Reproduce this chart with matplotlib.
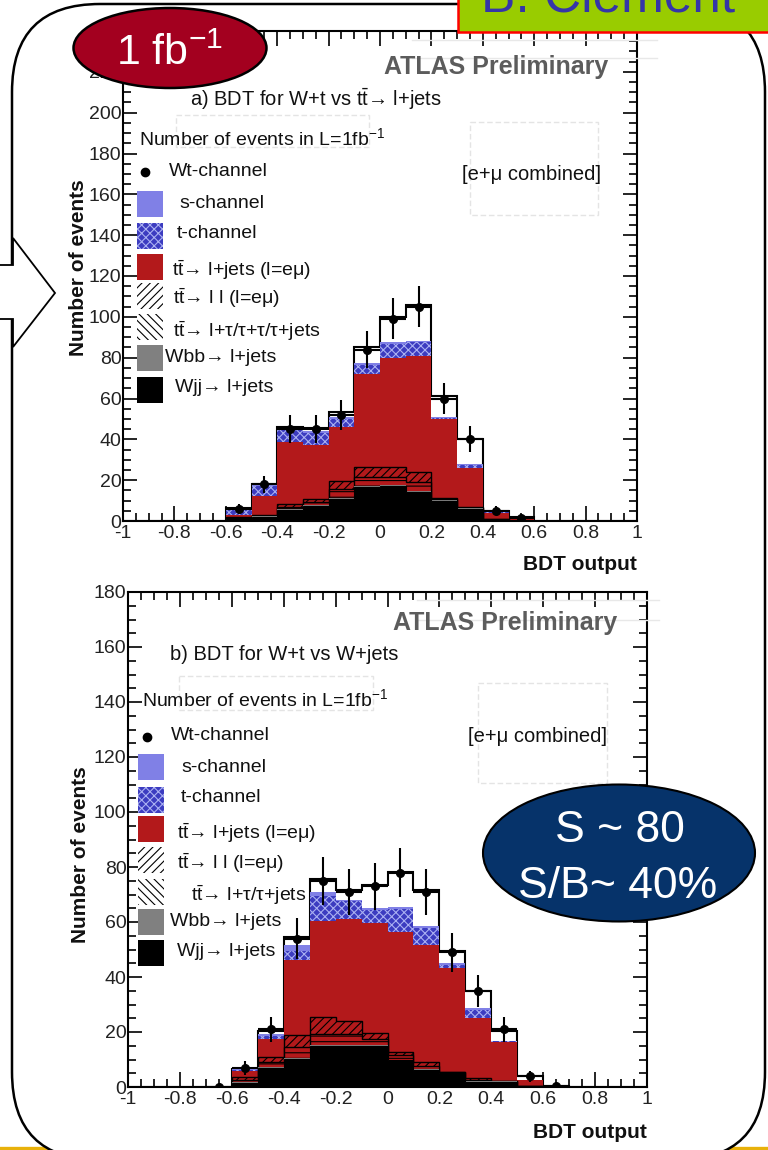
import numpy as np
import matplotlib
matplotlib.use('Agg')
import matplotlib.pyplot as plt
import matplotlib.transforms as mtransforms
from matplotlib.patches import Rectangle, Ellipse, Polygon, FancyBboxPatch
from matplotlib.lines import Line2D
from matplotlib.ticker import FixedLocator, MultipleLocator, FormatStrFormatter

plt.rcParams['font.family'] = ['Liberation Sans', 'DejaVu Sans']
plt.rcParams['mathtext.fontset'] = 'custom'
plt.rcParams['mathtext.rm'] = 'Liberation Sans'
plt.rcParams['mathtext.it'] = 'Liberation Sans:italic'
plt.rcParams['mathtext.bf'] = 'Liberation Sans:bold'
plt.rcParams['hatch.linewidth'] = 0.8

# ---------------- data ----------------
bin_edges = np.round(np.linspace(-1.0, 1.0, 21), 2)
x_ticks = [-1, -0.8, -0.6, -0.4, -0.2, 0, 0.2, 0.4, 0.6, 0.8, 1]

# panel a) BDT for W+t vs ttbar -> l+jets  (20 bins, -1 .. 1)
wjj_a   = [0, 0, 0, 0, 1.0, 2.0, 5.5, 7.5, 11.0, 16.5, 17.0, 14.0, 10.0, 6.0, 0.5, 0.1, 0, 0, 0, 0]
wbb_a   = [0, 0, 0, 0, 0.2, 0.3, 0.3, 0.4, 0.5, 0.5, 0.5, 0.5, 0.3, 0.2, 0.1, 0.0, 0, 0, 0, 0]
ltau_a  = [0, 0, 0, 0, 0.4, 0.3, 1.2, 1.6, 4.0, 4.5, 4.0, 4.5, 0.5, 0.3, 0.2, 0.0, 0, 0, 0, 0]
ll_a    = [0, 0, 0, 0, 0.4, 0.4, 1.4, 1.3, 3.9, 4.9, 4.9, 5.0, 0.7, 0.2, 0.2, 0.0, 0, 0, 0, 0]
ljets_a = [0, 0, 0, 0, 1.0, 9.1, 30.3, 26.3, 26.7, 45.8, 53.4, 56.6, 38.7, 19.3, 2.9, 0.7, 0, 0, 0, 0]
tch_a   = [0, 0, 0, 0, 2.5, 4.9, 5.8, 6.2, 3.9, 4.3, 6.7, 6.9, 0.4, 1.5, 0.4, 0.2, 0, 0, 0, 0]
sch_a   = [0, 0, 0, 0, 0.5, 0.8, 0.8, 0.9, 1.0, 1.0, 1.0, 0.5, 0.2, 0.3, 0.1, 0.1, 0, 0, 0, 0]
wt_a    = [0, 0, 0, 0, 0.2, 0.4, 0.7, 1.3, 2.5, 7.5, 12.3, 17.7, 10.2, 12.6, 0.4, 0.7, 0, 0, 0, 0]
data_x_a = [-0.55, -0.45, -0.35, -0.25, -0.15, -0.05, 0.05, 0.15, 0.25, 0.35, 0.45, 0.55]
data_a   = [6, 18, 45, 45, 52, 84, 99, 105, 60, 40, 5, 1.5]
err_a    = [2.5, 4.2, 6.7, 6.7, 7.2, 9.2, 10.0, 10.2, 7.7, 6.3, 2.2, 1.2]

# panel b) BDT for W+t vs W+jets
wjj_b   = [0, 0, 0, 0, 1.5, 7.0, 10.2, 14.9, 14.9, 14.9, 9.8, 6.2, 5.1, 2.0, 2.0, 0.3, 0.0, 0, 0, 0]
wbb_b   = [0, 0, 0, 0, 0.2, 0.3, 0.4, 0.4, 0.3, 0.3, 0.2, 0.2, 0.1, 0.1, 0.1, 0.0, 0.0, 0, 0, 0]
ltau_b  = [0, 0, 0, 0, 0.9, 1.7, 4.1, 4.0, 4.1, 2.3, 1.5, 1.4, 0.1, 0.5, 0.1, 0.0, 0.0, 0, 0, 0]
ll_b    = [0, 0, 0, 0, 1.0, 1.9, 4.3, 6.1, 4.7, 2.3, 1.3, 1.4, 0.1, 0.6, 0.1, 0.0, 0.0, 0, 0, 0]
ljets_b = [0, 0, 0, 0, 2.2, 6.5, 27.2, 35.1, 37.0, 39.8, 43.7, 42.4, 37.9, 21.8, 14.2, 2.2, 0.1, 0, 0, 0]
tch_b   = [0, 0, 0, 0, 0.4, 1.1, 3.4, 9.0, 6.5, 4.7, 8.3, 6.2, 1.1, 3.0, 0.2, 0.1, 0.0, 0, 0, 0]
sch_b   = [0, 0, 0, 0, 0.2, 0.8, 2.0, 1.5, 0.5, 0.7, 0.7, 0.7, 0.6, 0.7, 0.1, 0.1, 0.0, 0, 0, 0]
wt_b    = [0, 0, 0, 0, 0.3, 1.2, 2.9, 4.6, 3.6, 8.5, 12.8, 13.1, 4.5, 6.3, 3.7, 1.3, 0.4, 0, 0, 0]
data_x_b = [-0.65, -0.55, -0.45, -0.35, -0.25, -0.15, -0.05, 0.05, 0.15, 0.25, 0.35, 0.45, 0.55, 0.65]
data_b   = [0, 7, 21, 54, 75, 71, 73, 78, 71, 49, 35, 21, 4, 0.5]
err_b    = [0, 2.6, 4.6, 7.3, 8.7, 8.4, 8.5, 8.8, 8.4, 7.0, 5.9, 4.6, 2.0, 0.7]

# ---------------- styles ----------------
RED = '#b3191b'
SCH = '#8080e6'
TCH = '#3c3cc0'
TCH_H = '#aab0f2'
styles = [
    dict(facecolor='black', edgecolor='black', lw=0.8),                     # Wjj
    dict(facecolor='#808080', edgecolor='#808080', lw=0),                   # Wbb
    dict(facecolor=RED, edgecolor='black', hatch='---', lw=1.0),            # tt -> l+tau
    dict(facecolor=RED, edgecolor='black', hatch='////', lw=1.0),           # tt -> ll
    dict(facecolor=RED, edgecolor=RED, lw=0),                               # tt -> l+jets
    dict(facecolor=TCH, edgecolor=TCH_H, hatch='xxxx', lw=0),               # t-channel
    dict(facecolor=SCH, edgecolor=SCH, lw=0),                               # s-channel
    dict(facecolor='white', edgecolor='black', lw=1.5),                     # Wt
]

W, H = 768, 1150
fig = plt.figure(figsize=(W / 100, H / 100), dpi=100)
PX = mtransforms.Affine2D().scale(1.0 / W, -1.0 / H).translate(0, 1) + fig.transFigure


def ax_rect(x0, y_top, x1, y_bot):
    return [x0 / W, 1 - y_bot / H, (x1 - x0) / W, (y_bot - y_top) / H]


def draw_panel(ax, comps, dx, dy, de, ymax):
    cum = np.cumsum(np.array(comps, dtype=float), axis=0)
    for i in reversed(range(len(comps))):
        ax.stairs(cum[i], bin_edges, fill=True, baseline=0, zorder=2, **styles[i])
    ax.errorbar(dx, dy, yerr=de, xerr=0.05, fmt='o', color='black', ms=5.5,
                elinewidth=1.5, capsize=0, zorder=5)
    ax.set_xlim(-1, 1)
    ax.set_ylim(0, ymax)
    ax.xaxis.set_major_locator(FixedLocator(x_ticks))
    ax.xaxis.set_major_formatter(FormatStrFormatter('%g'))
    ax.xaxis.set_minor_locator(MultipleLocator(0.05))
    ax.yaxis.set_major_locator(MultipleLocator(20))
    ax.yaxis.set_minor_locator(MultipleLocator(5))
    ax.yaxis.set_major_formatter(FormatStrFormatter('%d'))
    ax.tick_params(which='both', direction='in', top=True, right=True, width=1.2,
                   labelsize=14, labelcolor='#222222')
    ax.tick_params(axis='x', which='major', length=11, pad=3)
    ax.tick_params(axis='x', which='minor', length=6)
    ax.tick_params(axis='y', which='major', length=10, pad=1)
    ax.tick_params(axis='y', which='minor', length=5.5)
    for s in ax.spines.values():
        s.set_linewidth(1.5)


# ---------------- slide background ----------------
fig.add_artist(Line2D([0, W], [1148, 1148], transform=PX, color='#e8b10a', lw=2.4, zorder=-3))
fig.add_artist(FancyBboxPatch((12, 4), 753, 1156, boxstyle='round,pad=0,rounding_size=88',
                              transform=PX, facecolor='white', edgecolor='black', lw=1.8, zorder=-2))

ax1 = fig.add_axes(ax_rect(123, 31, 637, 521))
ax2 = fig.add_axes(ax_rect(128, 592, 647, 1087))
draw_panel(ax1, [wjj_a, wbb_a, ltau_a, ll_a, ljets_a, tch_a, sch_a, wt_a], data_x_a, data_a, err_a, 240)
draw_panel(ax2, [wjj_b, wbb_b, ltau_b, ll_b, ljets_b, tch_b, sch_b, wt_b], data_x_b, data_b, err_b, 180)


def T(x, y, s, **kw):
    kw.setdefault('fontsize', 14)
    kw.setdefault('va', 'center')
    kw.setdefault('ha', 'left')
    kw.setdefault('zorder', 3)
    kw.setdefault('color', '#111111')
    return fig.text(x, y, s, transform=PX, **kw)


def faint_box(x0, y0, x1, y1):
    fig.add_artist(Rectangle((x0, y0), x1 - x0, y1 - y0, transform=PX, fill=False,
                             edgecolor='#e4e4e4', lw=1.0, ls=(0, (4, 2)), zorder=2.5))


def faint_line(x0, x1, y):
    fig.add_artist(Line2D([x0, x1], [y, y], transform=PX, color='#e8e8e8', lw=1.0, zorder=2.5))


TT = r'$\mathrm{t\bar{t}}$'
legend_styles = {
    'sch': dict(facecolor=SCH, edgecolor=SCH, lw=0),
    'tch': dict(facecolor=TCH, edgecolor=TCH_H, hatch='xxxx', lw=0),
    'ljets': dict(facecolor=RED, edgecolor=RED, lw=0),
    'll': dict(facecolor='white', edgecolor='black', hatch='////', lw=0),
    'ltau': dict(facecolor='white', edgecolor='black', hatch='\\\\\\\\', lw=0),
    'wbb': dict(facecolor='#808080', edgecolor='#808080', lw=0),
    'wjj': dict(facecolor='black', edgecolor='black', lw=0),
}


def legend_box(key, xc0, yc):
    fig.add_artist(Rectangle((xc0, yc - 13), 26, 26, transform=PX, zorder=3, **legend_styles[key]))


def draw_texts(p):
    T(p['atlas'][0], p['atlas'][1], 'ATLAS Preliminary', ha='right', fontsize=18,
      fontweight='bold', color='#5c5c5c')
    T(p['title'][0], p['title'][1], p['title_s'], fontsize=14.5)
    T(p['ltitle'][0], p['ltitle'][1], r'Number of events in L=1fb$^{-1}$', fontsize=14)
    T(p['comb'][0], p['comb'][1], '[e+μ combined]', fontsize=14.5)
    bx = p['bx']
    fig.add_artist(Line2D([p['dot'][0]], [p['dot'][1]], transform=PX, marker='o', ms=6,
                          color='black', lw=0, zorder=3))
    T(p['wt'][0], p['wt'][1], 'Wt-channel')
    items = [('sch', 's-channel'), ('tch', 't-channel'),
             ('ljets', TT + '→ l+jets (l=eμ)'), ('ll', TT + '→ l l (l=eμ)'),
             ('ltau', TT + p['ltau_s']), ('wbb', 'Wbb→ l+jets'), ('wjj', 'Wjj→ l+jets')]
    for (key, lab), (yb, xt, yt) in zip(items, p['rows']):
        legend_box(key, bx, yb)
        T(xt, yt, lab)
    T(p['xlab'][0], p['xlab'][1], 'BDT output', ha='right', fontsize=15, fontweight='bold')
    T(p['ylab'][0], p['ylab'][1], 'Number of events', ha='center', fontsize=15,
      fontweight='bold', rotation=90)
    for b in p['boxes']:
        faint_box(*b)
    for l in p['lines']:
        faint_line(*l)


draw_texts(dict(
    atlas=(608, 67), title=(190, 99), title_s='a) BDT for W+t vs ' + TT + '→ l+jets',
    ltitle=(139, 138), comb=(462, 174), bx=137, dot=(145, 172), wt=(169, 172),
    ltau_s='→ l+τ/τ+τ/τ+jets',
    rows=[(204, 179, 203), (236, 177, 234), (267, 172, 270), (296, 173, 298),
          (327, 173, 331), (358, 165, 357), (390, 175, 387)],
    xlab=(637, 565), ylab=(79, 268),
    boxes=[(176, 115, 369, 147), (470, 122, 598, 215)],
    lines=[(412, 657, 40), (412, 657, 58)],
))

draw_texts(dict(
    atlas=(617, 623), title=(170, 655), title_s='b) BDT for W+t vs W+jets',
    ltitle=(142, 699), comb=(468, 737), bx=138, dot=(147, 737), wt=(171, 735),
    ltau_s='→ l+τ/τ+jets',
    rows=[(767, 181, 767), (800, 181, 797), (829, 177, 833), (860, 177, 863),
          (892, 191, 895), (922, 170, 922), (953, 177, 952)],
    xlab=(647, 1132), ylab=(81, 855),
    boxes=[(179, 676, 373, 710), (478, 683, 607, 783)],
    lines=[(417, 659, 600), (417, 659, 620)],
))

# ---------------- slide overlays ----------------
fig.add_artist(Polygon([(-3, 265), (13, 265), (13, 238), (55, 293), (13, 347), (13, 319), (-3, 319)],
                       closed=True, transform=PX, facecolor='white', edgecolor='black', lw=1.3, zorder=4))
fig.add_artist(Rectangle((458, -10), 330, 42, transform=PX, facecolor='#99cc00',
                         edgecolor='#ff0000', lw=1.8, zorder=4))
T(481, 12, 'B. Clement', va='baseline', fontsize=37, color='#3535a8', zorder=5)

fig.add_artist(Ellipse((170, 48), 193, 80, transform=PX, facecolor='#a3001f',
                       edgecolor='black', lw=1.8, zorder=4))
T(169, 65, r'1 fb$^{\mathregular{-1}}$', ha='center', va='baseline', fontsize=31,
  color='white', zorder=5)

fig.add_artist(Ellipse((619, 853), 272, 137, transform=PX, facecolor='#06336a',
                       edgecolor='black', lw=1.5, zorder=4))
T(620, 842, 'S ~ 80', ha='center', va='baseline', fontsize=32, color='white', zorder=5)
T(618, 898, 'S/B~ 40%', ha='center', va='baseline', fontsize=32, color='white', zorder=5)

fig.savefig('out.png', dpi=100)
